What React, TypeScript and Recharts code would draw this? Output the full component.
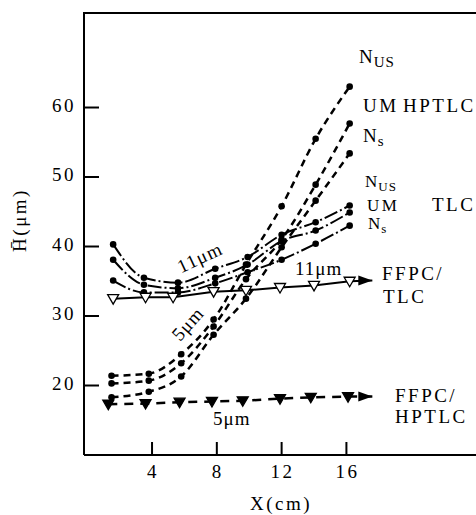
import React from "react";
import { LineChart, Line, XAxis, YAxis } from "recharts";

// 11 µm TLC plates: N_US, UM, N_s
const tlcX = [1.6, 3.5, 5.6, 7.9, 9.9, 12, 14.1, 16.2];
const tlcNus = [40.3, 35.5, 34.8, 36.8, 38.5, 41.7, 43.5, 45.9];
const tlcUm = [38.1, 34.5, 34.0, 35.5, 37.4, 40.8, 42.3, 44.9];
const tlcNs = [35.1, 33.4, 33.4, 34.7, 36.3, 38.1, 40.4, 43.0];

// 5 µm HPTLC plates: N_US, UM, N_s
const hptlcX = [1.5, 3.8, 5.8, 7.8, 9.8, 12, 14.1, 16.2];
const hptlcNus = [21.4, 21.7, 24.5, 29.5, 37.4, 45.8, 55.5, 63.0];
const hptlcUm = [20.3, 20.7, 23.2, 28.5, 35.3, 41.0, 48.9, 57.7];
const hptlcNs = [18.3, 19.1, 21.3, 27.3, 32.5, 39.9, 46.6, 53.4];

// FFPC (last value = arrow tip)
const ffpcTlcX = [1.6, 3.6, 5.3, 7.8, 9.8, 11.9, 14, 16.2, 17.6];
const ffpcTlc = [32.5, 32.7, 32.7, 33.5, 33.7, 34.1, 34.4, 35.0, 35.1];
const ffpcHpX = [1.3, 3.6, 5.7, 7.7, 9.6, 11.9, 13.8, 16.1, 17.6];
const ffpcHp = [17.3, 17.4, 17.6, 17.7, 17.8, 18.1, 18.3, 18.4, 18.4];

const xTicks = [4, 8, 12, 16];
const yTicks = [20, 30, 40, 50, 60];

const W = 476;
const H = 515;
const FONT = '"Liberation Serif", "Times New Roman", serif';
const FS = 19;
const LS = 2.5;

const zip = (xs: number[], ys: number[]) => xs.map((x, i) => ({ x, y: ys[i] }));

const Dot = (props: any) => {
  const { cx, cy, index } = props;
  if (cx == null || cy == null) return <g key={index} />;
  return <circle key={index} cx={cx} cy={cy} r={3.3} fill="#000" />;
};

const triDot = (open: boolean, n: number) => (props: any) => {
  const { cx, cy, index } = props;
  if (cx == null || cy == null) return <g key={index} />;
  if (index === n - 1) {
    return (
      <polygon
        key={index}
        points={`${cx},${cy} ${cx - 14},${cy - 5} ${cx - 14},${cy + 5}`}
        fill="#000"
      />
    );
  }
  return (
    <polygon
      key={index}
      points={`${cx - 5.5},${cy - 4} ${cx + 5.5},${cy - 4} ${cx},${cy + 5.5}`}
      fill={open ? "#fff" : "#000"}
      stroke="#000"
      strokeWidth={1.3}
    />
  );
};

const YTick = (props: any) => {
  const { x, y, payload } = props;
  return (
    <g>
      <line x1={x} x2={x + 15} y1={y} y2={y} stroke="#000" strokeWidth={2} />
      <text x={x - 8} y={y + 4} textAnchor="end" fontFamily={FONT} fontSize={FS} letterSpacing={LS} fill="#000">
        {payload.value}
      </text>
    </g>
  );
};

const XTick = (props: any) => {
  const { x, y, payload } = props;
  return (
    <g>
      <line x1={x} x2={x} y1={y} y2={y - 13} stroke="#000" strokeWidth={2} />
      <text x={x + 1} y={y + 23} textAnchor="middle" fontFamily={FONT} fontSize={FS} letterSpacing={LS} fill="#000">
        {payload.value}
      </text>
    </g>
  );
};

const T = (p: any) => (
  <text fontFamily={FONT} fontSize={FS} letterSpacing={LS} fill="#000" {...p} />
);

const Sub = ({ x, y, main, sub, fs = FS }: any) => (
  <text x={x} y={y} fontFamily={FONT} fontSize={fs} letterSpacing={1} fill="#000">
    {main}
    <tspan dy={4} fontSize={fs - 4}>{sub}</tspan>
  </text>
);

export default function App() {
  return (
    <div style={{ position: "absolute", left: 0, top: 0, width: W, height: H, background: "#fff", overflow: "hidden" }}>
      <LineChart width={W} height={H} margin={{ top: 13, right: 0, left: 0, bottom: 30 }}>
        <XAxis
          dataKey="x"
          type="number"
          domain={[-0.2, 24]}
          ticks={xTicks}
          tickSize={0}
          tickMargin={0}
          tickLine={false}
          height={30}
          axisLine={{ stroke: "#000", strokeWidth: 2 }}
          tick={<XTick />}
          allowDataOverflow
        />
        <YAxis
          type="number"
          domain={[10, 73.6]}
          ticks={yTicks}
          tickSize={0}
          tickMargin={0}
          tickLine={false}
          width={84}
          axisLine={{ stroke: "#000", strokeWidth: 2 }}
          tick={<YTick />}
          allowDataOverflow
        />

        <Line data={zip(tlcX, tlcNus)} dataKey="y" type="monotone" stroke="#000" strokeWidth={2} strokeDasharray="14 3 2 3" dot={Dot} isAnimationActive={false} />
        <Line data={zip(tlcX, tlcUm)} dataKey="y" type="monotone" stroke="#000" strokeWidth={2} strokeDasharray="14 3 2 3" dot={Dot} isAnimationActive={false} />
        <Line data={zip(tlcX, tlcNs)} dataKey="y" type="monotone" stroke="#000" strokeWidth={2} strokeDasharray="14 3 2 3" dot={Dot} isAnimationActive={false} />

        <Line data={zip(hptlcX, hptlcNus)} dataKey="y" type="monotone" stroke="#000" strokeWidth={2.5} strokeDasharray="7 5" dot={Dot} isAnimationActive={false} />
        <Line data={zip(hptlcX, hptlcUm)} dataKey="y" type="monotone" stroke="#000" strokeWidth={2.5} strokeDasharray="7 5" dot={Dot} isAnimationActive={false} />
        <Line data={zip(hptlcX, hptlcNs)} dataKey="y" type="monotone" stroke="#000" strokeWidth={2.5} strokeDasharray="7 5" dot={Dot} isAnimationActive={false} />

        <Line data={zip(ffpcTlcX, ffpcTlc)} dataKey="y" type="linear" stroke="#000" strokeWidth={2} dot={triDot(true, ffpcTlcX.length)} isAnimationActive={false} />
        <Line data={zip(ffpcHpX, ffpcHp)} dataKey="y" type="linear" stroke="#000" strokeWidth={2.5} strokeDasharray="9 7" dot={triDot(false, ffpcHpX.length)} isAnimationActive={false} />
      </LineChart>

      <svg width={W} height={H} style={{ position: "absolute", left: 0, top: 0, pointerEvents: "none" }}>
        {/* top frame edge */}
        <line x1={83} x2={W} y1={13} y2={13} stroke="#000" strokeWidth={2} />

        <Sub x={359} y={63} main="N" sub="US" />
        <T x={363} y={112}>UM</T>
        <T x={403} y={112}>HPTLC</T>
        <Sub x={363} y={142} main="N" sub="s" />

        <Sub x={365} y={187} main="N" sub="US" fs={17} />
        <T x={367} y={211} fontSize={17}>UM</T>
        <T x={432} y={211}>TLC</T>
        <Sub x={368} y={229} main="N" sub="s" fs={17} />

        <T x={200} y={264} textAnchor="middle" letterSpacing={1} transform="rotate(-25 200 258)">11μm</T>
        <T x={295} y={275} letterSpacing={1}>11μm</T>
        <T x={188} y={330} textAnchor="middle" letterSpacing={1} transform="rotate(-48 188 324)">5μm</T>
        <T x={213} y={425} letterSpacing={1}>5μm</T>

        <T x={382} y={280}>FFPC/</T>
        <T x={383} y={303}>TLC</T>
        <T x={395} y={402}>FFPC/</T>
        <T x={395} y={423}>HPTLC</T>

        <T x={281} y={510} textAnchor="middle">X(cm)</T>
        <T x={32} y={226} textAnchor="middle" transform="rotate(-90 26 226)">{"H\u0304(μm)"}</T>
      </svg>
    </div>
  );
}
